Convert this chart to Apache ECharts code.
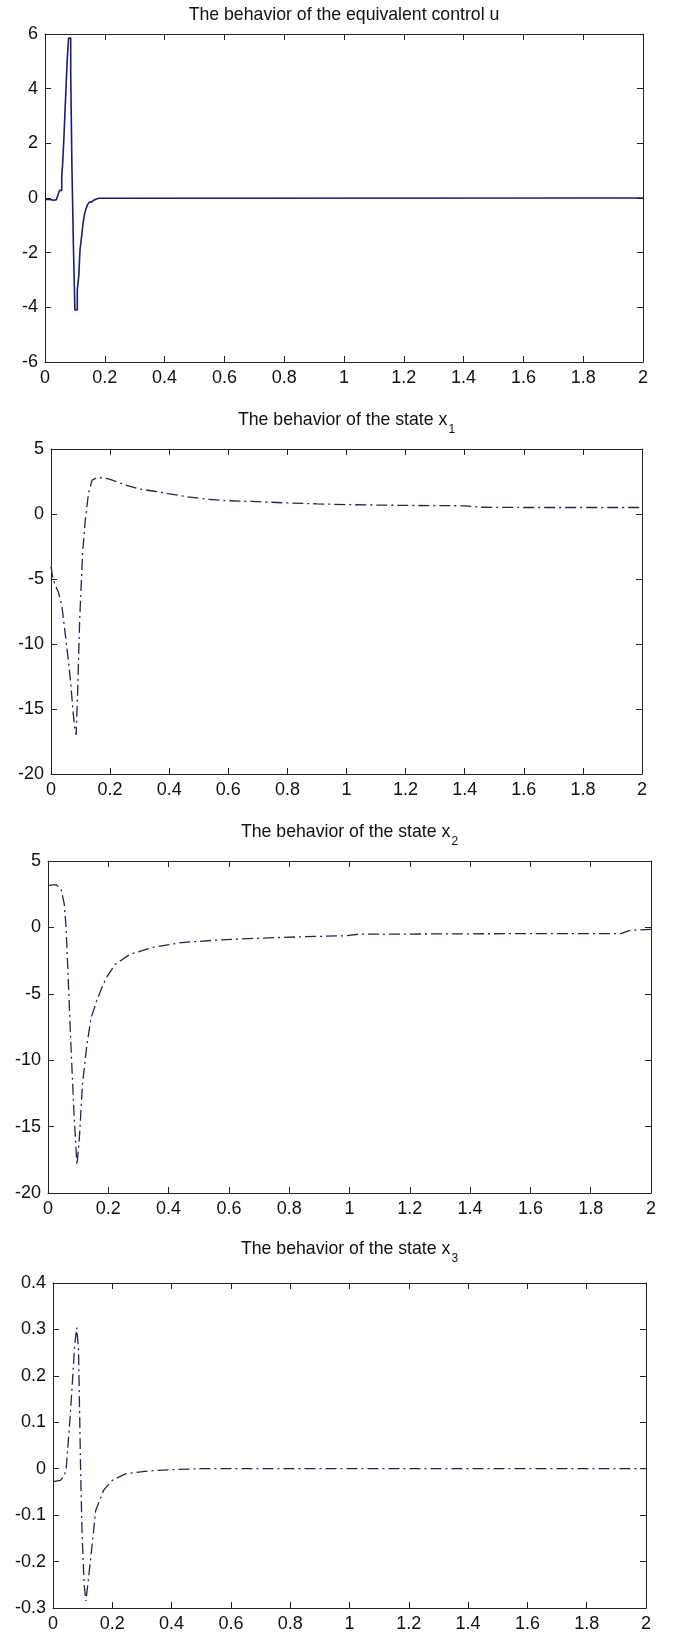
<!DOCTYPE html>
<html>
<head>
<meta charset="utf-8">
<title>Equivalent control and states</title>
<script src="https://cdn.jsdelivr.net/npm/echarts@6/dist/echarts.min.js"></script>
<style>
  html, body { margin: 0; padding: 0; background: #fff; }
  #chart { width: 677px; height: 1633px; }
</style>
</head>
<body>
<div id="chart"></div>
<script>
// time axis, same for all four panels
const timeMin = 0;
const timeMax = 2;
const timeStep = 0.2;

// equivalent control u -- sampled signal, drawn as a staircase
const tU = [0, 0.015, 0.03, 0.038, 0.043, 0.049, 0.056, 0.059, 0.0635, 0.069, 0.0745, 0.079,
  0.086, 0.09, 0.095, 0.1, 0.108, 0.113, 0.117, 0.123, 0.127, 0.132, 0.137, 0.142, 0.148,
  0.155, 0.163, 0.172, 0.18, 2];
const uVals = [-0.05, -0.08, -0.06, -0.02, 0.1, 0.28, 0.8, 1.25, 2.25, 3.7, 5.1, 5.85,
  4.55, 1.2, -1.75, -4.1, -3.35, -2.85, -1.9, -1.35, -0.95, -0.6, -0.4, -0.25, -0.15,
  -0.08, -0.04, -0.01, 0, 0];

// state x1
const tX1 = [0, 0.006, 0.015, 0.025, 0.037, 0.048, 0.06, 0.068, 0.074, 0.08, 0.085, 0.09,
  0.097, 0.107, 0.116, 0.127, 0.139, 0.156, 0.175, 0.2, 0.25, 0.3, 0.35, 0.4, 0.46, 0.53,
  0.6, 0.7, 0.8, 0.9, 1.0, 1.2, 1.4, 1.43, 1.45, 1.6, 1.8, 2.0];
const x1Vals = [-4.05, -4.9, -5.5, -6.0, -7.1, -9.2, -11.5, -13.3, -15.1, -16.4, -17.0, -13.8,
  -8.15, -3.0, -0.46, 1.6, 2.6, 2.8, 2.78, 2.67, 2.25, 1.92, 1.75, 1.55, 1.33, 1.13,
  1.02, 0.95, 0.85, 0.78, 0.72, 0.66, 0.63, 0.58, 0.52, 0.5, 0.5, 0.5];

// state x2
const tX2 = [0, 0.015, 0.028, 0.043, 0.054, 0.06, 0.067, 0.076, 0.086, 0.096, 0.104, 0.114,
  0.129, 0.143, 0.165, 0.193, 0.222, 0.272, 0.344, 0.444, 0.559, 0.702, 0.85, 0.989, 1.03,
  1.2, 1.56, 1.9, 1.93, 2.0];
const x2Vals = [3.15, 3.2, 3.2, 2.9, 1.76, 0, -3.8, -8.85, -13.9, -17.9, -15.9, -11.9,
  -8.85, -6.8, -5.3, -3.8, -2.8, -2.03, -1.52, -1.14, -0.96, -0.81, -0.7, -0.63, -0.51,
  -0.5, -0.47, -0.47, -0.22, -0.15];

// state x3
const tX3 = [0, 0.025, 0.036, 0.044, 0.051, 0.058, 0.066, 0.073, 0.08, 0.086, 0.09, 0.093,
  0.098, 0.105, 0.111, 0.12, 0.13, 0.144, 0.171, 0.2, 0.244, 0.317, 0.4, 0.5, 2.0];
const x3Vals = [-0.028, -0.025, -0.017, -0.003, 0.055, 0.113, 0.192, 0.265, 0.304, 0.257, 0.113, 0,
  -0.14, -0.249, -0.285, -0.234, -0.176, -0.09, -0.046, -0.025, -0.011, -0.005, -0.002, 0, 0];

const panels = [
  { title: 'The behavior of the equivalent control u', sub: '', t: tU, v: uVals,
    yMin: -6, yMax: 6, yStep: 2, step: 'end', dashed: false },
  { title: 'The behavior of the state x', sub: '1', t: tX1, v: x1Vals,
    yMin: -20, yMax: 5, yStep: 5, step: false, dashed: true },
  { title: 'The behavior of the state x', sub: '2', t: tX2, v: x2Vals,
    yMin: -20, yMax: 5, yStep: 5, step: false, dashed: true },
  { title: 'The behavior of the state x', sub: '3', t: tX3, v: x3Vals,
    yMin: -0.3, yMax: 0.4, yStep: 0.1, step: false, dashed: true },
];

// plot boxes (the four sub-figures are not exactly aligned)
const boxes = [
  { left: 45, top: 34, width: 598, height: 328, titleY: 15 },
  { left: 51, top: 449, width: 591, height: 325, titleY: 420 },
  { left: 48, top: 861, width: 603, height: 332, titleY: 832 },
  { left: 53, top: 1283, width: 593, height: 325, titleY: 1249 },
];

const fontFamily = '"Liberation Sans", Arial, Helvetica, sans-serif';
const axisColor = '#222';
const textColor = '#111';

var chart = echarts.init(document.getElementById('chart'), null, { renderer: 'canvas' });

const option = {
  animation: false,
  backgroundColor: '#fff',
  grid: [],
  xAxis: [],
  yAxis: [],
  series: [],
  graphic: [],
};

panels.forEach((p, i) => {
  const b = boxes[i];
  option.grid.push({
    left: b.left, top: b.top, width: b.width, height: b.height,
    containLabel: false, outerBoundsMode: 'none',
  });

  const base = {
    type: 'value',
    gridIndex: i,
    axisLine: { show: true, onZero: false, lineStyle: { color: axisColor, width: 1 } },
    axisTick: { show: true, inside: true, length: 6, lineStyle: { color: axisColor, width: 1 } },
    splitLine: { show: false },
  };
  const label = { show: true, margin: 7, fontSize: 18, color: textColor, fontFamily: fontFamily };

  // bottom + top x axes, left + right y axes -> matlab style box with ticks on all sides
  option.xAxis.push({ ...base, position: 'bottom', min: timeMin, max: timeMax, interval: timeStep, axisLabel: label });
  option.xAxis.push({ ...base, position: 'top', min: timeMin, max: timeMax, interval: timeStep, axisLabel: { show: false } });
  option.yAxis.push({ ...base, position: 'left', min: p.yMin, max: p.yMax, interval: p.yStep, axisLabel: label });
  option.yAxis.push({ ...base, position: 'right', min: p.yMin, max: p.yMax, interval: p.yStep, axisLabel: { show: false } });

  option.series.push({
    type: 'line',
    xAxisIndex: 2 * i,
    yAxisIndex: 2 * i,
    data: p.t.map((t, k) => [t, p.v[k]]),
    step: p.step,
    symbol: 'none',
    smooth: false,
    clip: true,
    lineStyle: p.dashed
      ? { color: '#24244e', width: 1.3, type: [11, 4, 2, 4] }
      : { color: '#1c1c72', width: 1.6, type: 'solid' },
  });

  // title, with the subscript as a rich-text token
  const txt = p.sub ? '{t|' + p.title + '}{s|' + p.sub + '}' : '{t|' + p.title + '}';
  option.graphic.push({
    type: 'text',
    x: b.left + b.width / 2,
    y: b.titleY,
    style: {
      text: txt,
      align: 'center',
      verticalAlign: 'middle',
      fontFamily: fontFamily,
      fill: textColor,
      rich: {
        t: { fontSize: 17.7, lineHeight: 20, fontFamily: fontFamily, fill: textColor, verticalAlign: 'middle' },
        s: { fontSize: 12, lineHeight: 12, fontFamily: fontFamily, fill: textColor, verticalAlign: 'middle', padding: [20, 0, 0, 1] },
      },
    },
  });
});

chart.setOption(option);
</script>
</body>
</html>
